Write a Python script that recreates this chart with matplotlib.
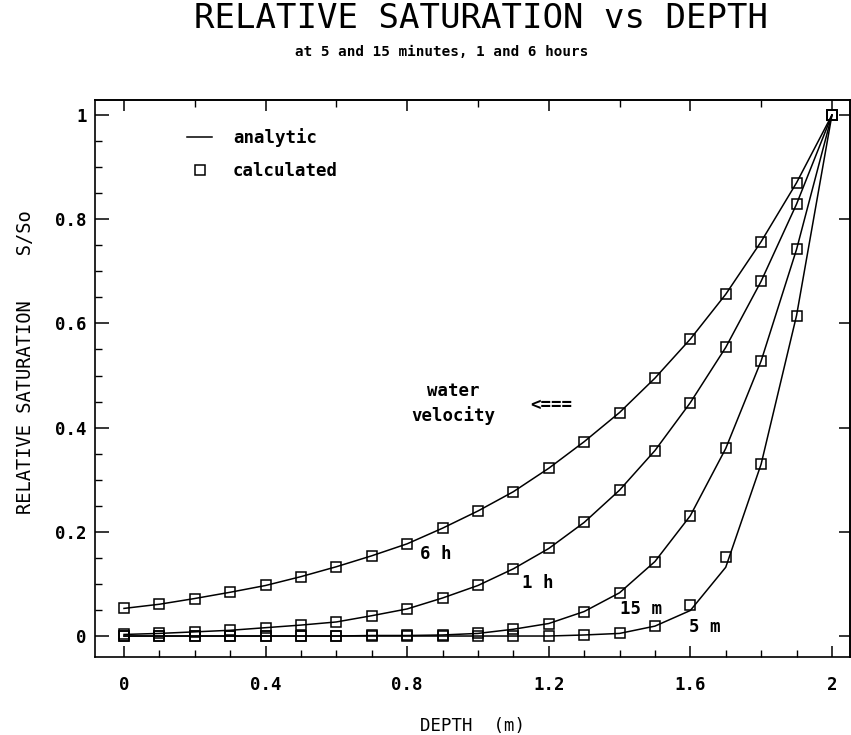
import matplotlib
matplotlib.use("Agg")
import matplotlib.pyplot as plt
from matplotlib.lines import Line2D
from matplotlib.ticker import MultipleLocator

# depth grid of the calculated points (m)
depth = [0.0, 0.1, 0.2, 0.3, 0.4, 0.5, 0.6, 0.7, 0.8, 0.9, 1.0,
         1.1, 1.2, 1.3, 1.4, 1.5, 1.6, 1.7, 1.8, 1.9, 2.0]

# calculated relative saturation S/So (squares)
calc_6h = [0.053, 0.061, 0.072, 0.084, 0.097, 0.114, 0.133, 0.154, 0.177, 0.207, 0.240,
           0.277, 0.322, 0.373, 0.429, 0.495, 0.570, 0.656, 0.757, 0.870, 1.0]
calc_1h = [0.003, 0.005, 0.008, 0.011, 0.016, 0.021, 0.027, 0.039, 0.052, 0.073, 0.097,
           0.129, 0.168, 0.218, 0.280, 0.356, 0.448, 0.554, 0.681, 0.829, 1.0]
calc_15m = [0.0, 0.0, 0.0, 0.0, 0.0, 0.0, 0.0, 0.001, 0.001, 0.002, 0.005,
            0.013, 0.024, 0.047, 0.083, 0.143, 0.231, 0.360, 0.528, 0.742, 1.0]
calc_5m = [0.0, 0.0, 0.0, 0.0, 0.0, 0.0, 0.0, 0.0, 0.0, 0.0, 0.0,
           0.0, 0.0, 0.002, 0.005, 0.020, 0.060, 0.151, 0.330, 0.615, 1.0]

# analytic solution (lines); only the 5 min curve departs from the squares
anal_6h = calc_6h
anal_1h = calc_1h
anal_15m = calc_15m
anal_5m = [0.0, 0.0, 0.0, 0.0, 0.0, 0.0, 0.0, 0.0, 0.0, 0.0, 0.0,
           0.0, 0.0, 0.002, 0.005, 0.019, 0.049, 0.132, 0.330, 0.615, 1.0]

curve_labels = ["6 h", "1 h", "15 m", "5 m"]
label_pos = [(0.88, 0.157), (1.17, 0.102), (1.46, 0.052), (1.64, 0.017)]

xticks = [0, 0.4, 0.8, 1.2, 1.6, 2]
xticklabels = ["0", "0.4", "0.8", "1.2", "1.6", "2"]
yticks = [0, 0.2, 0.4, 0.6, 0.8, 1]
yticklabels = ["0", "0.2", "0.4", "0.6", "0.8", "1"]

plt.rcParams['font.family'] = ['DejaVu Sans Mono', 'DejaVu Sans']
plt.rcParams['font.weight'] = 'bold'
FS = 12.5

fig = plt.figure(figsize=(8.51, 7.35), dpi=100)
ax = fig.add_axes([0.1116, 0.1061, 0.8872, 0.7578])

for anal, calc in [(anal_6h, calc_6h), (anal_1h, calc_1h),
                   (anal_15m, calc_15m), (anal_5m, calc_5m)]:
    ax.plot(depth, anal, color="black", lw=1.1)
    ax.plot(depth, calc, ls="none", marker="s", ms=6.5, mfc="none",
            mec="black", mew=1.1)

for txt, (tx, ty) in zip(curve_labels, label_pos):
    ax.text(tx, ty, txt, fontsize=FS, ha="center", va="center")

ax.text(0.93, 0.471, "water", fontsize=FS, ha="center", va="center")
ax.text(0.93, 0.424, "velocity", fontsize=FS, ha="center", va="center")
ax.text(1.207, 0.443, "<===", fontsize=FS, ha="center", va="center")

ax.set_xlim(-0.082, 2.051)
ax.set_ylim(-0.0403, 1.0288)

ax.set_xticks(xticks)
ax.set_xticklabels(xticklabels)
ax.set_yticks(yticks)
ax.set_yticklabels(yticklabels)
ax.xaxis.set_minor_locator(MultipleLocator(0.1))
ax.yaxis.set_minor_locator(MultipleLocator(0.05))
ax.tick_params(which="major", direction="in", length=10, width=1.1,
               labelsize=FS, top=False, right=False)
ax.tick_params(axis="x", which="major", length=8, pad=14)
ax.tick_params(axis="y", which="major", pad=6)
ax.tick_params(which="minor", direction="in", length=5, width=1.0,
               top=False, right=False)

# top and right frames carry their own ticks
top = ax.secondary_xaxis("top")
top.set_xticks([0, 0.4, 0.8, 1.2, 1.6, 2.0])
top.xaxis.set_minor_locator(MultipleLocator(0.2))
top.tick_params(which="major", direction="in", length=8, width=1.1, labeltop=False)
top.tick_params(which="minor", direction="in", length=5, width=1.0)
right = ax.secondary_yaxis("right")
right.set_yticks(yticks)
right.tick_params(direction="in", length=8, width=1.1, labelright=False)

for sp in list(ax.spines.values()) + [top.spines["top"], right.spines["right"]]:
    sp.set_linewidth(1.2)

ax.set_xlabel("DEPTH  (m)", fontsize=FS)
ax.xaxis.set_label_coords(0.5, -0.107)
ax.set_ylabel("RELATIVE SATURATION    S/So", fontsize=13.5)
ax.yaxis.set_label_coords(-0.08, 0.53)

handles = [Line2D([], [], color="black", lw=1.1),
           Line2D([], [], ls="none", marker="s", ms=6.5, mfc="none", mec="black", mew=1.1)]
ax.legend(handles, ["analytic", "calculated"], loc="upper left",
          bbox_to_anchor=(0.122, 0.95), frameon=False, fontsize=FS,
          handlelength=1.45, handletextpad=1.2, labelspacing=0.9,
          borderpad=0, borderaxespad=0)

fig.text(0.565, 1 - 19 / 735, "RELATIVE SATURATION vs DEPTH", fontsize=24.5,
         fontweight="normal", ha="center", va="center")
fig.text(0.519, 1 - 52 / 735, "at 5 and 15 minutes, 1 and 6 hours", fontsize=10.3,
         ha="center", va="center")

fig.savefig("out.png", dpi=100)
